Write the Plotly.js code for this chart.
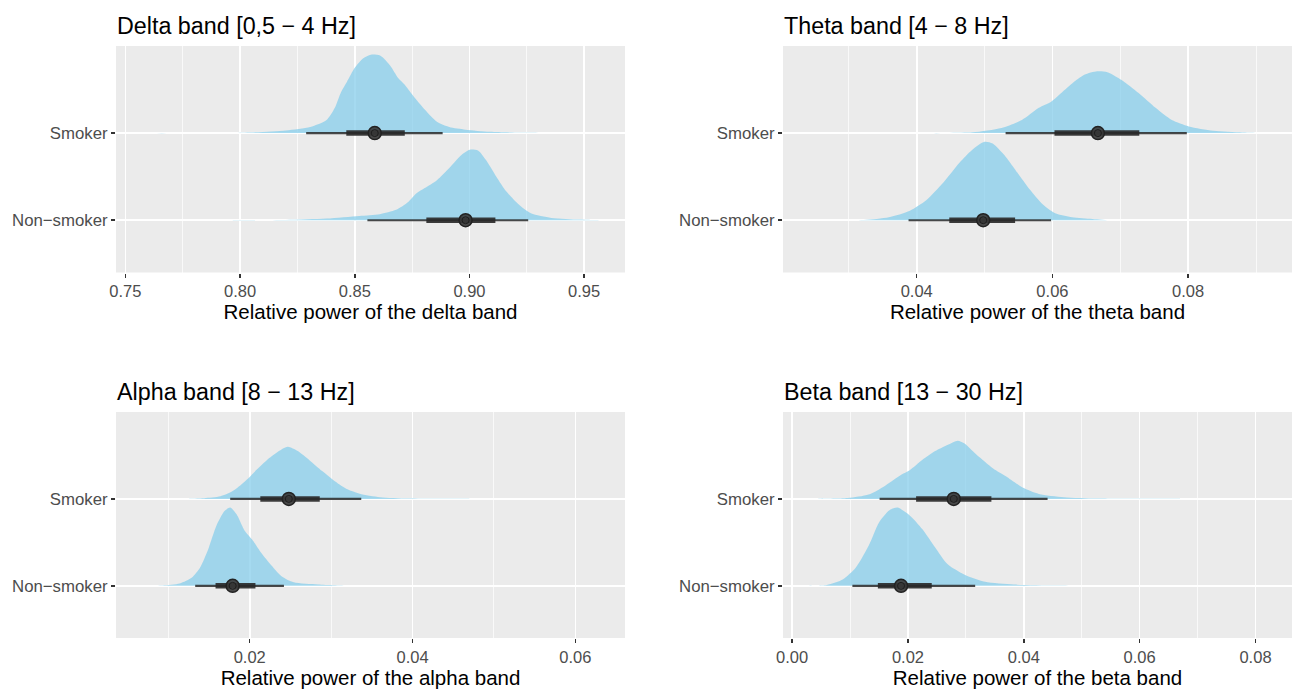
<!DOCTYPE html>
<html>
<head>
<meta charset="utf-8">
<script src="https://cdn.plot.ly/plotly-3.0.1.min.js"></script>
<style>html,body{margin:0;padding:0;background:#fff;}#chart{width:1292px;height:690px;}</style>
</head>
<body>
<div id="chart"></div>
<script>
// ---------- data ----------
const categories = ['Non\u2212smoker', 'Smoker'];
const panelTitles = ['Delta band [0,5 \u2212 4 Hz]', 'Theta band [4 \u2212 8 Hz]', 'Alpha band [8 \u2212 13 Hz]', 'Beta band [13 \u2212 30 Hz]'];
const axisTitles = ['Relative power of the delta band', 'Relative power of the theta band', 'Relative power of the alpha band', 'Relative power of the beta band'];

// density curves (x value, relative height)
const deltaSmokerX = [0.7557,0.802,0.820,0.8306,0.8377,0.8413,0.844,0.8466,0.850,0.8537,0.857,0.861,0.8653,0.869,0.8716,0.8751,0.8805,0.8858,0.8912,0.8983,0.909,0.9268,0.934];
const deltaSmokerH = [0,0.005,0.03,0.07,0.15,0.29,0.47,0.59,0.75,0.86,0.9,0.89,0.78,0.63,0.56,0.44,0.27,0.13,0.07,0.04,0.015,0.003,0];
const deltaNonX = [0.7967,0.8199,0.8377,0.852,0.8609,0.868,0.8733,0.8769,0.8805,0.8858,0.8912,0.8965,0.9001,0.9037,0.9072,0.9117,0.9161,0.9215,0.9268,0.9357,0.9482,0.9571];
const deltaNonH = [0,0.004,0.02,0.05,0.07,0.12,0.21,0.31,0.37,0.46,0.6,0.75,0.81,0.8,0.69,0.5,0.33,0.18,0.08,0.027,0.008,0];

const thetaSmokerX = [0.0414,0.0482,0.0525,0.0555,0.058,0.0598,0.061,0.0629,0.0647,0.0666,0.0681,0.0702,0.0727,0.0752,0.0776,0.0801,0.0837,0.088,0.0917];
const thetaSmokerH = [0,0.01,0.06,0.15,0.29,0.36,0.44,0.57,0.67,0.71,0.7,0.61,0.46,0.29,0.15,0.077,0.027,0.008,0];
const thetaNonX = [0.0248,0.0322,0.0359,0.039,0.0414,0.0439,0.0463,0.0482,0.05,0.0512,0.0531,0.0549,0.0567,0.0586,0.0604,0.0629,0.0659,0.0684];
const thetaNonH = [0,0.004,0.035,0.11,0.23,0.43,0.66,0.81,0.9,0.88,0.73,0.54,0.35,0.18,0.08,0.035,0.015,0];

const alphaSmokerX = [0.0124,0.0144,0.0164,0.0179,0.0194,0.0209,0.0224,0.0239,0.0247,0.0259,0.0274,0.0289,0.0305,0.032,0.0335,0.036,0.0395,0.047];
const alphaSmokerH = [0,0.008,0.03,0.09,0.2,0.34,0.47,0.57,0.6,0.55,0.44,0.32,0.2,0.11,0.06,0.02,0.004,0];
const alphaNonX = [0.0058,0.0093,0.0114,0.0129,0.0139,0.0149,0.0159,0.0169,0.0176,0.0184,0.0194,0.0204,0.0214,0.0227,0.0239,0.0254,0.0284,0.032];
const alphaNonH = [0,0.004,0.027,0.095,0.21,0.42,0.69,0.86,0.9,0.82,0.63,0.52,0.38,0.23,0.11,0.04,0.015,0];

const betaSmokerX = [0.0045,0.0096,0.0132,0.016,0.0189,0.0203,0.0225,0.0247,0.0268,0.0286,0.0297,0.0318,0.0347,0.0369,0.0398,0.0426,0.0469,0.0527,0.067];
const betaSmokerH = [0,0.01,0.05,0.15,0.28,0.33,0.45,0.55,0.62,0.67,0.64,0.51,0.35,0.26,0.13,0.057,0.02,0.004,0];
const betaNonX = [0.0024,0.006,0.0088,0.011,0.0132,0.015,0.0168,0.0182,0.0203,0.0225,0.0247,0.0268,0.0297,0.0333,0.0383,0.0455,0.052];
const betaNonH = [0,0.01,0.076,0.21,0.46,0.73,0.87,0.9,0.81,0.65,0.44,0.25,0.13,0.046,0.015,0.004,0];

// point intervals: [non-smoker, smoker]
const medians   = [[0.8983, 0.8587], [0.0498, 0.0667], [0.0179, 0.0248], [0.0188, 0.0279]];
const thickLo   = [[0.8812, 0.8463], [0.0448, 0.0603], [0.0158, 0.0213], [0.0148, 0.0214]];
const thickHi   = [[0.9113, 0.8718], [0.0545, 0.0728], [0.0207, 0.0286], [0.0241, 0.0344]];
const thinLo    = [[0.8555, 0.8288], [0.0388, 0.0531], [0.0133, 0.0176], [0.0104, 0.0151]];
const thinHi    = [[0.9256, 0.8883], [0.0598, 0.0798], [0.0242, 0.0337], [0.0316, 0.0441]];

// axis settings
const xRanges = [[0.7459, 0.9678], [0.0203, 0.0953], [0.00357, 0.0661], [-0.00158, 0.0863]];
const xTick0  = [0.75, 0.04, 0.02, 0.0];
const xDtick  = [0.05, 0.02, 0.02, 0.02];
const xMinor  = [0.025, 0.01, 0.01, 0.01];
const xFormat = ['.2f', '.2f', '.2f', '.2f'];

// ---------- build ----------
const densities = [
  [[deltaNonX, deltaNonH], [deltaSmokerX, deltaSmokerH]],
  [[thetaNonX, thetaNonH], [thetaSmokerX, thetaSmokerH]],
  [[alphaNonX, alphaNonH], [alphaSmokerX, alphaSmokerH]],
  [[betaNonX, betaNonH], [betaSmokerX, betaSmokerH]]
];

const W = 1292, H = 690;
const xDom = [[116 / W, 625 / W], [783 / W, 1], [116 / W, 625 / W], [783 / W, 1]];
const yDom = [[1 - 272.5 / H, 1 - 46 / H], [1 - 272.5 / H, 1 - 46 / H], [1 - 638 / H, 1 - 412 / H], [1 - 638 / H, 1 - 412 / H]];

const traces = [];
const layout = {
  width: W, height: H,
  margin: {l: 0, r: 0, t: 0, b: 0},
  paper_bgcolor: '#ffffff',
  plot_bgcolor: '#EBEBEB',
  showlegend: false,
  font: {family: 'Liberation Sans, Arial, sans-serif', color: '#4D4D4D'},
  annotations: []
};

for (let p = 0; p < 4; p++) {
  const sfx = p === 0 ? '' : String(p + 1);
  const xa = 'x' + sfx, ya = 'y' + sfx;
  // densities
  for (let c = 0; c < 2; c++) {
    const xs = densities[p][c][0], hs = densities[p][c][1];
    const px = xs.concat(xs.slice().reverse());
    const py = hs.map(h => c + h).concat(xs.map(() => c));
    traces.push({
      type: 'scatter', mode: 'lines', x: px, y: py, xaxis: xa, yaxis: ya,
      fill: 'toself', fillcolor: 'rgba(135,206,235,0.75)',
      line: {width: 0, shape: 'spline', smoothing: 0.7, color: 'rgba(0,0,0,0)'},
      hoverinfo: 'skip'
    });
  }
  // intervals
  for (let c = 0; c < 2; c++) {
    traces.push({
      type: 'scatter', mode: 'lines', x: [thinLo[p][c], thinHi[p][c]], y: [c, c],
      xaxis: xa, yaxis: ya, line: {color: 'rgba(40,40,40,0.85)', width: 2.2}, hoverinfo: 'skip'
    });
    traces.push({
      type: 'scatter', mode: 'lines', x: [thickLo[p][c], thickHi[p][c]], y: [c, c],
      xaxis: xa, yaxis: ya, line: {color: 'rgba(40,40,40,0.9)', width: 5.5}, hoverinfo: 'skip'
    });
    traces.push({
      type: 'scatter', mode: 'markers', x: [medians[p][c]], y: [c],
      xaxis: xa, yaxis: ya,
      marker: {symbol: 'circle', size: 13, color: 'rgba(55,55,55,0.9)', line: {color: '#222222', width: 1.5}},
      hoverinfo: 'skip'
    });
    traces.push({
      type: 'scatter', mode: 'markers', x: [medians[p][c]], y: [c],
      xaxis: xa, yaxis: ya,
      marker: {symbol: 'circle-open', size: 7, color: '#1e1e1e', line: {color: '#1e1e1e', width: 1}},
      hoverinfo: 'skip'
    });
  }

  layout['xaxis' + sfx] = {
    domain: xDom[p], anchor: ya, range: xRanges[p],
    tick0: xTick0[p], dtick: xDtick[p], tickformat: xFormat[p],
    showgrid: true, gridcolor: '#ffffff', gridwidth: 1.6,
    minor: {dtick: xMinor[p], tick0: xTick0[p], showgrid: true, gridcolor: '#ffffff', gridwidth: 0.7},
    zeroline: false, showline: false,
    ticks: 'outside', ticklen: 4, tickwidth: 1.5, tickcolor: '#333333',
    tickfont: {size: 16.5, color: '#4D4D4D'},
    title: {text: axisTitles[p], font: {size: 20.5, color: '#000000'}, standoff: 3},
    automargin: false, fixedrange: true
  };
  layout['yaxis' + sfx] = {
    domain: yDom[p], anchor: xa, range: [-0.6, 2.0],
    tickvals: [0, 1], ticktext: categories,
    showgrid: true, gridcolor: '#ffffff', gridwidth: 1.6,
    zeroline: false, showline: false,
    ticks: 'outside', ticklen: 4, tickwidth: 1.5, tickcolor: '#333333',
    tickfont: {size: 16.8, color: '#4D4D4D'},
    automargin: false, fixedrange: true
  };
  layout.annotations.push({
    xref: 'paper', yref: 'paper', x: xDom[p][0] - 1 / W, y: yDom[p][1] + 5 / H,
    xanchor: 'left', yanchor: 'bottom', showarrow: false,
    text: panelTitles[p], font: {size: 23.3, color: '#000000'}
  });
}

Plotly.newPlot('chart', traces, layout, {staticPlot: true, displayModeBar: false});
</script>
</body>
</html>
